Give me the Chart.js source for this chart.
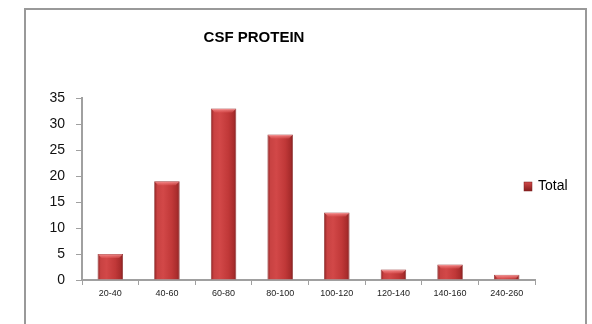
<!DOCTYPE html>
<html>
<head>
<meta charset="utf-8">
<script src="https://cdn.jsdelivr.net/npm/chart.js@4.4.1/dist/chart.umd.min.js"></script>
<style>
  html,body{margin:0;padding:0;background:#fff;overflow:hidden;}
  #wrap{position:relative;width:592px;height:324px;}
  #frame{position:absolute;left:24px;top:8px;width:563px;height:400px;border:2px solid #999;box-sizing:border-box;}
  canvas{position:absolute;left:0;top:0;}
</style>
</head>
<body>
<div id="wrap">
  <div id="frame"></div>
  <canvas id="c" width="592" height="324"></canvas>
</div>
<script>
const chartTitle = "CSF PROTEIN";
const seriesName = "Total";
const categories = ["20-40","40-60","60-80","80-100","100-120","120-140","140-160","240-260"];
const totals = [5, 19, 33, 28, 13, 2, 3, 1];
const yTicks = [0, 5, 10, 15, 20, 25, 30, 35];

const FONT = "'Liberation Sans', Arial, sans-serif";
const AXIS = "#a0a0a0";

function barFill(ctx) {
  const chart = ctx.chart;
  const xs = chart.scales && chart.scales.x;
  if (!chart.chartArea || !xs || ctx.dataIndex === undefined) return "#c43a3a";
  const cx = xs.getPixelForValue(ctx.dataIndex);
  const half = xs.width / categories.length * 0.45 / 2;
  const g = chart.ctx.createLinearGradient(cx - half, 0, cx + half, 0);
  g.addColorStop(0, "#8e2222");
  g.addColorStop(0.12, "#c84242");
  g.addColorStop(0.35, "#d24848");
  g.addColorStop(0.7, "#c03838");
  g.addColorStop(0.9, "#a82c2c");
  g.addColorStop(1, "#842020");
  return g;
}

const bevelPlugin = {
  id: "bevel",
  afterDatasetsDraw(chart) {
    const c = chart.ctx;
    const meta = chart.getDatasetMeta(0);
    c.save();
    meta.data.forEach(bar => {
      const { x, y, width } = bar.getProps(["x", "y", "width"], true);
      const l = x - width / 2, r = x + width / 2, d = 4;
      const g = c.createLinearGradient(0, y, 0, y + d);
      g.addColorStop(0, "rgba(255,170,170,0.85)");
      g.addColorStop(1, "rgba(235,100,100,0.35)");
      c.fillStyle = g;
      c.beginPath();
      c.moveTo(l + 0.5, y + 0.5);
      c.lineTo(r - 0.5, y + 0.5);
      c.lineTo(r - d, y + d);
      c.lineTo(l + d, y + d);
      c.closePath();
      c.fill();
    });
    c.restore();
  }
};

const titleLegendPlugin = {
  id: "titleLegend",
  afterDraw(chart) {
    const c = chart.ctx;
    const a = chart.chartArea;
    c.save();
    c.fillStyle = "#000";
    c.font = "bold 15px " + FONT;
    c.textAlign = "center";
    c.textBaseline = "middle";
    c.fillText(chartTitle, 254, 38);
    const ly = (a.top + a.bottom) / 2 - 3;
    const lx = a.right - 11;
    const g = c.createLinearGradient(lx, ly - 4, lx, ly + 4);
    g.addColorStop(0, "#d24a4a");
    g.addColorStop(1, "#8e2222");
    c.fillStyle = g;
    c.fillRect(lx, ly - 4, 8, 9);
    c.strokeStyle = "#7a2020";
    c.lineWidth = 0.5;
    c.strokeRect(lx, ly - 4, 8, 9);
    c.fillStyle = "#000";
    c.font = "14px " + FONT;
    c.textAlign = "left";
    c.fillText(chart.data.datasets[0].label, lx + 14, ly + 0.5);
    c.restore();
  }
};

new Chart(document.getElementById("c"), {
  type: "bar",
  data: {
    labels: categories,
    datasets: [{
      label: seriesName,
      data: totals,
      backgroundColor: barFill,
      borderColor: "#8a2a2a",
      borderWidth: 0.8,
      categoryPercentage: 1,
      barPercentage: 0.45
    }]
  },
  options: {
    responsive: false,
    animation: false,
    devicePixelRatio: 1,
    layout: { padding: { left: 0, top: 98, right: 57, bottom: 0 } },
    plugins: {
      legend: { display: false },
      title: { display: false },
      tooltip: { enabled: false }
    },
    scales: {
      x: {
        offset: true,
        grid: { display: true, offset: true, drawOnChartArea: false, drawTicks: true, tickLength: 5, color: AXIS, lineWidth: 1 },
        border: { display: true, color: AXIS, width: 2 },
        ticks: { color: "#222", font: { family: FONT, size: 9 }, padding: 3, maxRotation: 0, autoSkip: false },
        afterFit(s) { s.height = 44; }
      },
      y: {
        min: 0, max: 35,
        afterBuildTicks(s) { s.ticks = yTicks.map(v => ({ value: v })); },
        grid: { display: true, drawOnChartArea: false, drawTicks: true, tickLength: 6, color: AXIS, lineWidth: 1 },
        border: { display: true, color: AXIS, width: 2 },
        ticks: { color: "#111", font: { family: FONT, size: 14 }, padding: 11 },
        afterFit(s) { s.width = 82; }
      }
    }
  },
  plugins: [bevelPlugin, titleLegendPlugin]
});
</script>
</body>
</html>
